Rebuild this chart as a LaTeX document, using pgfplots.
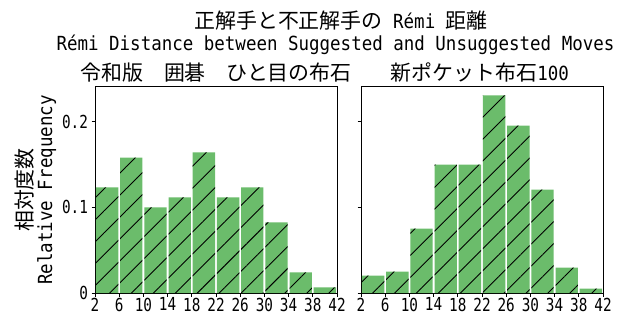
\documentclass[border=0pt]{standalone}
\usepackage{fontspec}
\usepackage{pgfplots}
\pgfplotsset{compat=1.18}
\usetikzlibrary{patterns.meta}
\newfontfamily\cjk{Noto Sans CJK JP}
\newfontfamily\lat[FakeStretch=0.9]{DejaVu Sans Mono}
\newfontfamily\tickf[FakeStretch=0.8]{DejaVu Sans Mono}
\newcommand\Cj[1]{{\fontsize{21}{24}\cjk #1}}
\newcommand\Lt[1]{{\fontsize{19.5}{22}\lat #1}}
\definecolor{tabgreen}{RGB}{44,160,44}
\pgfplotsset{
  histstyle/.style={
    scale only axis, width=242bp, height=207bp, anchor=south west,
    xmin=2, xmax=42, ymin=0, ymax=0.2416,
    xtick={2,6,...,42}, ytick={0,0.1,0.2},
    xtick pos=bottom, ytick pos=left,
    tick align=outside, major tick length=3.5bp,
    tick style={black, line width=0.8bp},
    axis line style={black, line width=0.8bp},
    tick label style={font=\fontsize{18}{20}\tickf},
    xticklabel style={inner ysep=1.2bp},
    /pgf/number format/assume math mode=true,
    ybar, bar width=3.7,
  },
  barstyle/.style={fill=tabgreen, fill opacity=0.7, draw=none,
    postaction={pattern={Lines[angle=45,distance=15.5bp,line width=0.9bp]}, pattern color=black}},
}
\begin{document}
\begin{tikzpicture}[x=1bp,y=1bp]
\useasboundingbox (0,0) rectangle (628,315);
\begin{axis}[histstyle, at={(95bp,22bp)}, yticklabels={0,0.1,0.2}]
\addplot[barstyle] coordinates {
(4,0.1233) (8,0.1580) (12,0.1000) (16,0.1117) (20,0.1642)
(24,0.1117) (28,0.1233) (32,0.0825) (36,0.0241) (40,0.0066)};
\end{axis}
\begin{axis}[histstyle, at={(361bp,22bp)}, yticklabels={,,}]
\addplot[barstyle] coordinates {
(4,0.0202) (8,0.0249) (12,0.0751) (16,0.1498) (20,0.1498)
(24,0.2307) (28,0.1953) (32,0.1206) (36,0.0296) (40,0.0051)};
\end{axis}
\node[anchor=base, inner sep=0pt] at (341,287) {\Cj{正解手と不正解手の}\Lt{\ Rémi\ }\Cj{距離}};
\node[anchor=base, inner sep=0pt] at (335.5,264.3) {\Lt{Rémi Distance between Suggested and Unsuggested Moves}};
\node[anchor=base, inner sep=0pt] at (216,235) {\Cj{令和版　囲碁　ひと目の布石}};
\node[anchor=base, inner sep=0pt] at (480,235) {\Cj{新ポケット布石}\Lt{100}};
\node[anchor=base, inner sep=0pt, rotate=90] at (32,125) {\Cj{相対度数}};
\node[anchor=base, inner sep=0pt, rotate=90] at (52,125) {\Lt{Relative Frequency}};
\end{tikzpicture}
\end{document}
